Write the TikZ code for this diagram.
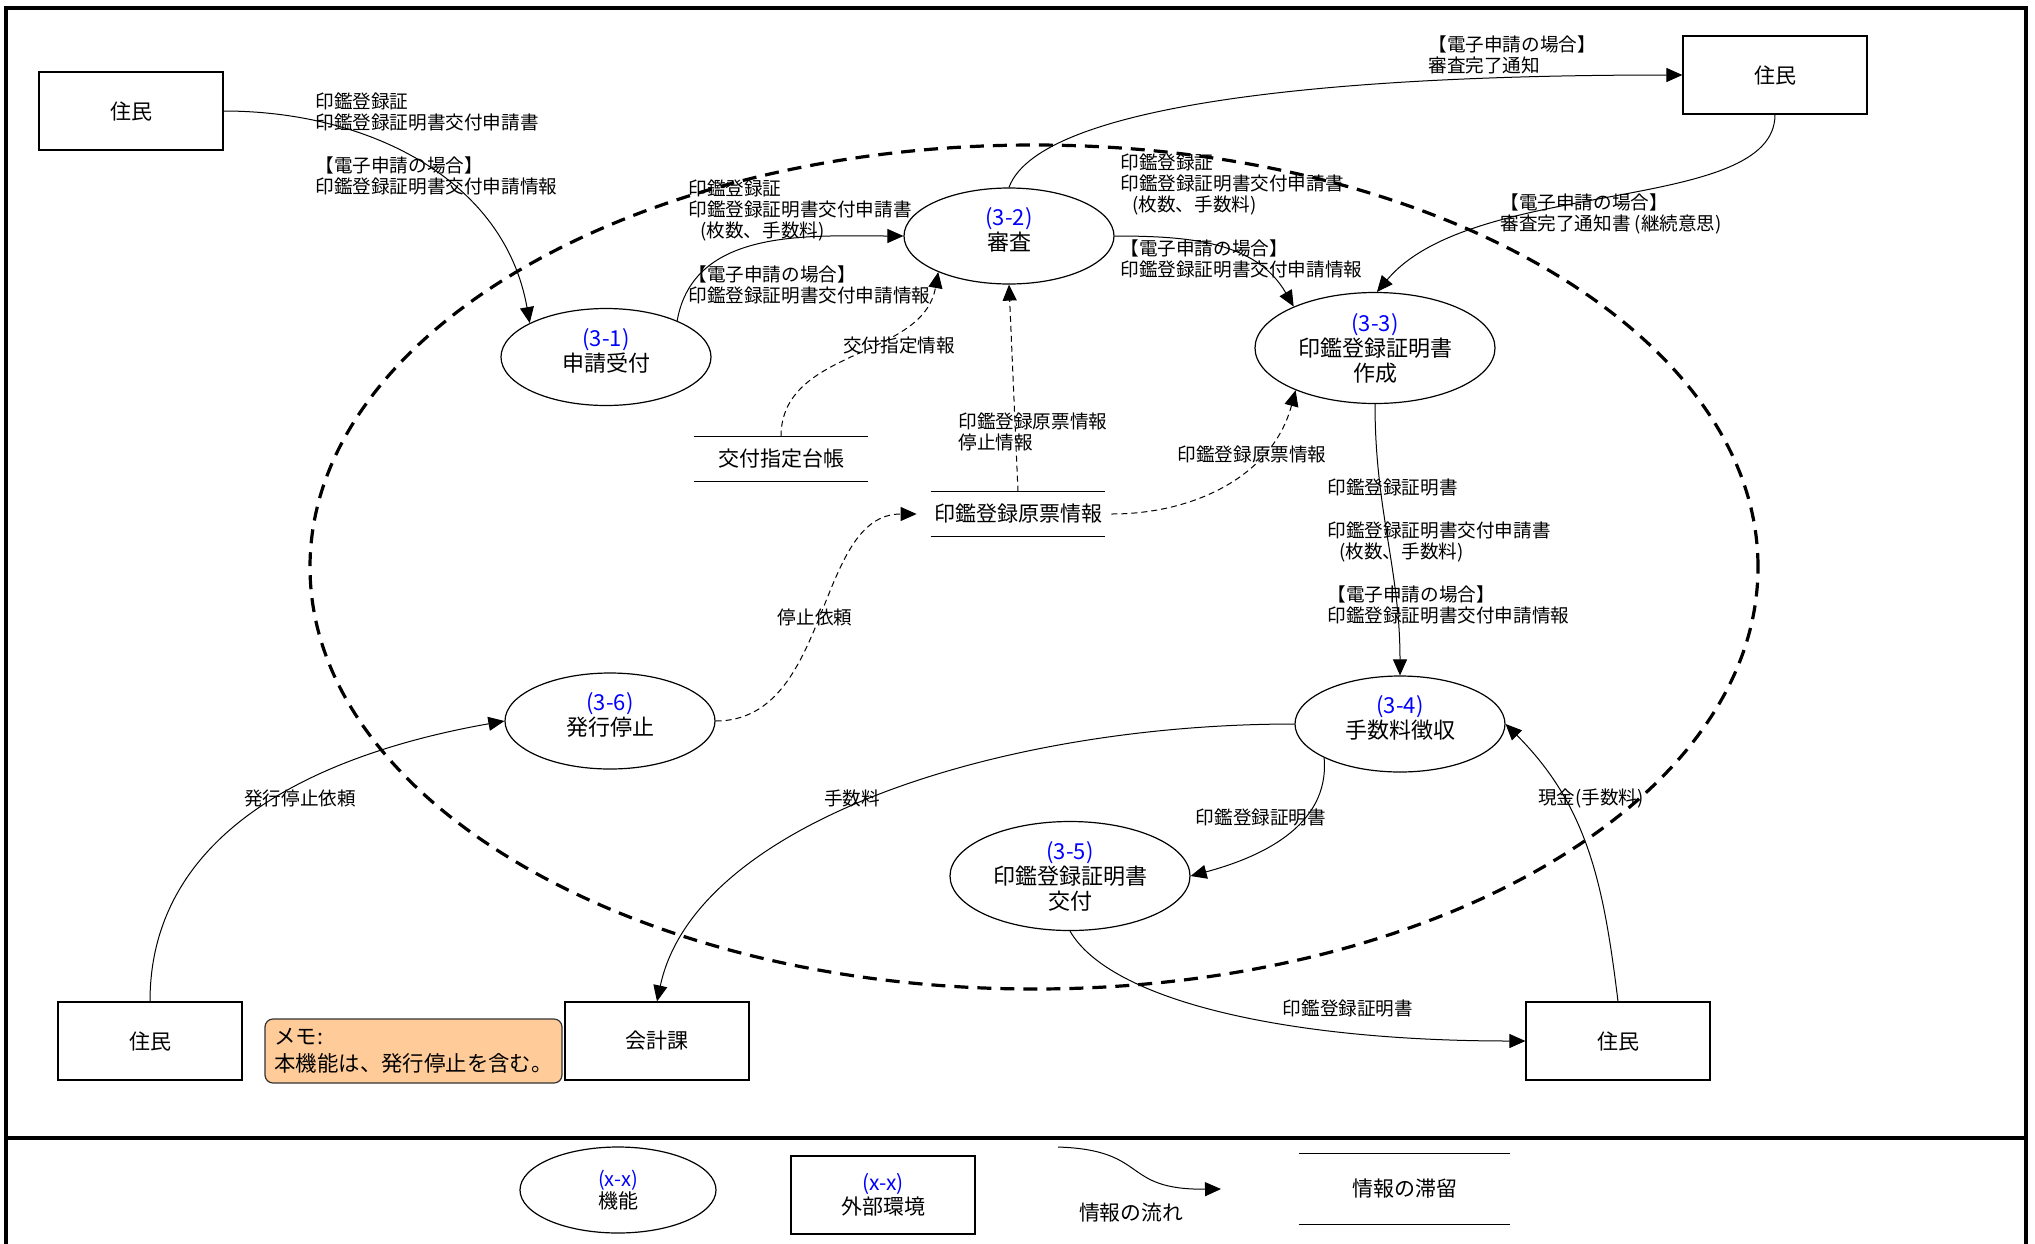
\documentclass[tikz,border=0pt]{standalone}
\usepackage{fontspec}
\setmainfont{Noto Sans CJK JP}
\usetikzlibrary{shapes.geometric,arrows.meta}
\definecolor{memofill}{HTML}{FFCC99}

\begin{document}
\begin{tikzpicture}[x=0.5pt,y=-0.5pt,
		proc/.style={ellipse, draw, line width=0.6pt, inner sep=0pt, align=center, minimum width=105pt, minimum height=48pt, font=\fontsize{11}{12.5}\selectfont},
		ext/.style={draw, line width=0.6pt, inner sep=0pt, align=center, minimum width=92pt, minimum height=39pt, font=\fontsize{10.5}{12}\selectfont},
		store/.style={inner sep=0pt, minimum width=87pt, minimum height=22pt, font=\fontsize{10.5}{12}\selectfont},
		lbl/.style={inner sep=0pt, align=left, font=\fontsize{9.3}{10.6}\selectfont},
		memo/.style={draw=black!80, line width=0.6pt, fill=memofill, rounded corners=4pt, align=left, inner sep=2pt, minimum width=148.5pt, minimum height=32pt, font=\fontsize{10.7}{13.5}\selectfont},
		flow/.style={line width=0.5pt, -{Triangle[length=8pt,width=7pt]}},
		dflow/.style={flow, dash pattern=on 3pt off 2pt}]
	\useasboundingbox (0,0) rectangle (2035,1243);
	\draw[line width=1.8pt] (6,1260) -- (6,8) -- (2026,8) -- (2026,1260);
	\draw[line width=1.8pt] (6,1138) -- (2026,1138);
	\draw[line width=1.6pt, dash pattern=on 7pt off 4.5pt] (1034,567) ellipse [x radius=362pt, y radius=211pt];

	\node[ext] (jumin1) at (131,111) {住民};
	\node[ext] (jumin2) at (1775,75) {住民};
	\node[ext] (jumin3) at (150,1041) {住民};
	\node[ext] (kaikei) at (657,1041) {会計課};
	\node[ext] (jumin4) at (1618,1041) {住民};

	\node[proc, minimum height=48.5pt] (p31) at (606,357) {\textcolor{blue}{(3-1)}\\申請受付\\[-5pt]\mbox{}};
	\node[proc] (p32) at (1009,236) {\textcolor{blue}{(3-2)}\\審査\\[-5pt]\mbox{}};
	\node[proc, minimum width=120pt, minimum height=55.5pt] (p33) at (1375,348) {\textcolor{blue}{(3-3)}\\印鑑登録証明書\\作成};
	\node[proc] (p34) at (1400,724) {\textcolor{blue}{(3-4)}\\手数料徴収\\[-5pt]\mbox{}};
	\node[proc, minimum width=120pt, minimum height=54.5pt] (p35) at (1070,876) {\textcolor{blue}{(3-5)}\\印鑑登録証明書\\交付};
	\node[proc] (p36) at (610,721) {\textcolor{blue}{(3-6)}\\発行停止\\[-5pt]\mbox{}};

	\node[store] (kofu) at (781,459) {交付指定台帳};
	\draw[line width=0.6pt] (kofu.north west) -- (kofu.north east) (kofu.south west) -- (kofu.south east);
	\node[store] (genpyo) at (1018,514) {印鑑登録原票情報};
	\draw[line width=0.6pt] (genpyo.north west) -- (genpyo.north east) (genpyo.south west) -- (genpyo.south east);

	\node[memo] (memo) at (413.5,1051) {メモ:\\本機能は、発行停止を含む。};

	\draw[flow] (jumin1.east) to[out=0, in=100] (p31.156);
	\draw[flow] (p31.27) to[out=80, in=180] (p32.west);
	\draw[flow] (p32.north) to[out=70, in=180, out distance=40pt, in distance=200pt] (jumin2.west);
	\draw[flow] (p32.east) to[out=0, in=120] (p33.153);
	\draw[flow] (jumin2.south) to[out=-90, in=50, out distance=50pt, in distance=75pt] (p33.88);
	\draw[dflow] (kofu.north) to[out=90, in=-100] (p32.207);
	\draw[dflow] (genpyo.north) -- (p32.south);
	\draw[dflow, shorten <=3pt] (genpyo.east) to[out=0, in=-105] (p33.208);
	\draw[flow] (p33.south) to[out=-90, in=90] (p34.north);
	\draw[flow] (p34.west) to[out=180, in=78, out distance=148pt, in distance=91pt] (kaikei.north);
	\draw[flow] (p34.204) to[out=-85, in=15] (p35.east);
	\draw[flow] (p35.south) to[out=-60, in=180, out distance=40pt, in distance=120pt] (jumin4.west);
	\draw[flow] (jumin4.north) to[out=97, in=-45] (p34.east);
	\draw[flow] (jumin3.north) to[out=90, in=-170] (p36.west);
	\draw[dflow, shorten >=7pt] (p36.east) to[out=0, in=180] (genpyo.west);

	\node[lbl, anchor=north west] (t1) at (315,92) {印鑑登録証\\印鑑登録証明書交付申請書\\[11pt]【電子申請の場合】\\印鑑登録証明書交付申請情報};
	\node[lbl, anchor=north west] (t2a) at (688,179) {印鑑登録証\\印鑑登録証明書交付申請書\\\hspace*{6pt}(枚数、手数料)};
	\node[lbl, anchor=north west] (t2b) at (688,265) {【電子申請の場合】\\印鑑登録証明書交付申請情報};
	\node[lbl, anchor=north west] (t3) at (1428,35) {【電子申請の場合】\\審査完了通知};
	\node[lbl, anchor=north west] (t4a) at (1120,153) {印鑑登録証\\印鑑登録証明書交付申請書\\\hspace*{6pt}(枚数、手数料)};
	\node[lbl, anchor=north west] (t4b) at (1120,239) {【電子申請の場合】\\印鑑登録証明書交付申請情報};
	\node[lbl, anchor=north west] (t5) at (1500,193) {【電子申請の場合】\\審査完了通知書 (継続意思)};
	\node[lbl] (t6) at (899,345) {交付指定情報};
	\node[lbl, anchor=north west] (t7) at (958,412) {印鑑登録原票情報\\停止情報};
	\node[lbl] (t8) at (1252,454) {印鑑登録原票情報};
	\node[lbl, anchor=north west] (t9) at (1327,478) {印鑑登録証明書\\[11pt]印鑑登録証明書交付申請書\\\hspace*{6pt}(枚数、手数料)\\[11pt]【電子申請の場合】\\印鑑登録証明書交付申請情報};
	\node[lbl] (t10) at (852,798) {手数料};
	\node[lbl] (t11) at (1261,817) {印鑑登録証明書};
	\node[lbl] (t12) at (1348,1008) {印鑑登録証明書};
	\node[lbl] (t13) at (1591,798) {現金(手数料)};
	\node[lbl] (t14) at (300,798) {発行停止依頼};
	\node[lbl] (t15) at (815,617) {停止依頼};

	\node[proc, minimum width=98pt, minimum height=43pt, font=\fontsize{10}{11}\selectfont] (lgproc) at (618,1190) {\textcolor{blue}{(x-x)}\\機能};
	\node[ext] (lgext) at (883,1195) {\textcolor{blue}{(x-x)}\\外部環境};
	\coordinate (lgA) at (1058,1147);
	\coordinate (lgB) at (1221,1189);
	\draw[flow] (lgA) .. controls (1150,1150) and (1120,1190) .. (lgB);
	\node[inner sep=0pt, font=\fontsize{10.4}{12}\selectfont] (lgflow) at (1131,1213) {情報の流れ};
	\node[store, minimum width=105.5pt, minimum height=35pt] (lgstore) at (1404.5,1189) {情報の滞留};
	\draw[line width=0.6pt] (lgstore.north west) -- (lgstore.north east) (lgstore.south west) -- (lgstore.south east);
\end{tikzpicture}
\end{document}
